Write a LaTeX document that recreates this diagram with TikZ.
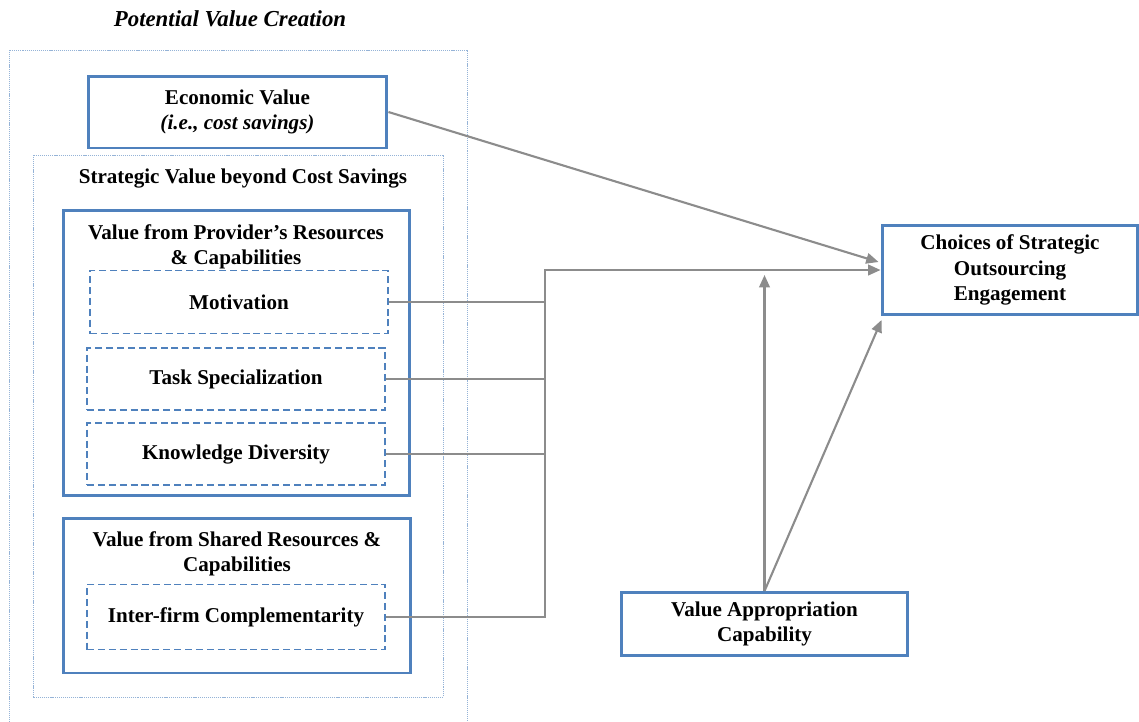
\documentclass[tikz,border=0pt]{standalone}
\usepackage{fontspec}
\setmainfont{Liberation Serif}
\usetikzlibrary{positioning, arrows.meta, calc}

\definecolor{boxblue}{HTML}{4F81BD}
\definecolor{frameblue}{HTML}{95B3D7}
\definecolor{linkgray}{HTML}{8C8C8C}

\tikzset{
  bigbox/.style={draw=boxblue, line width=1.7pt, fill=white, inner sep=2pt,
    align=center, font=\bfseries\fontsize{12}{14.5}\selectfont},
  subbox/.style={draw=boxblue, line width=1.1pt, dash pattern=on 4pt off 2.2pt,
    align=center, font=\bfseries\fontsize{12}{14}\selectfont,
    minimum width=5.96cm},
  frame/.style={draw=frameblue, line width=0.5pt, dash pattern=on 0.6pt off 0.5pt},
  caption/.style={align=center, font=\bfseries\fontsize{12}{14.5}\selectfont},
  link/.style={draw=linkgray, line width=1.2pt},
  arrow/.style={link, -{Triangle[length=7pt,width=6pt]}},
}

\begin{document}
\begin{tikzpicture}[x=0.02cm, y=-0.02cm]
    \useasboundingbox (0,0) rectangle (1139,721);
    % Frames round the value creation part
    \node[font=\bfseries\itshape\fontsize{13}{15}\selectfont] (title) at (230,19) {Potential Value Creation};
    \draw[frame] (9,50) rectangle (467,740);
    \draw[frame] (33,155) rectangle (443,697);
    \node[caption] (stratT) at (243,179) {Strategic Value beyond Cost Savings};

    % Boxes on the left
    \node[bigbox, minimum width=5.98cm, minimum height=1.44cm] (econ) at (237.5,112)
        {Economic Value\\\textit{(i.e., cost savings)}};
    \node[bigbox, minimum width=6.94cm, minimum height=5.72cm] (prov) at (236.5,353) {};
    \node[caption] (provT) at (236,247) {Value from Provider’s Resources\\\& Capabilities};
    \node[subbox, minimum height=1.26cm] (mot) at (239,302) {Motivation};
    \node[subbox, minimum height=1.24cm] (task) at (236,379) {Task Specialization};
    \node[subbox, minimum height=1.24cm] (know) at (236,454) {Knowledge Diversity};
    \node[bigbox, minimum width=6.96cm, minimum height=3.1cm] (shared) at (237,595.5) {};
    \node[caption] (sharedT) at (237,554) {Value from Shared Resources \&\\Capabilities};
    \node[subbox, minimum height=1.3cm] (inter) at (236,617) {Inter-firm Complementarity};

    % Boxes on the right
    \node[bigbox, minimum width=5.12cm, minimum height=1.78cm] (choice) at (1010,270)
        {Choices of Strategic\\Outsourcing\\Engagement};
    \node[bigbox, minimum width=5.74cm, minimum height=1.26cm] (va) at (764.5,624)
        {Value Appropriation\\Capability};

    % Connectors
    \coordinate (jtop) at (545,270);
    \coordinate (vtip) at (764.5,275);
    \draw[arrow] (inter.east) -| (jtop) -- (choice.west);
    \draw[link] (mot.east) -- (mot.east -| jtop);
    \draw[link] (task.east) -- (task.east -| jtop);
    \draw[link] (know.east) -- (know.east -| jtop);
    \draw[arrow] (econ.east) -- ($(choice.west)+(-2,-8)$);
    \draw[arrow] (va.north) -- (vtip);
    \draw[arrow] (va.north) -- ($(choice.south west)+(1,4)$);
\end{tikzpicture}
\end{document}
